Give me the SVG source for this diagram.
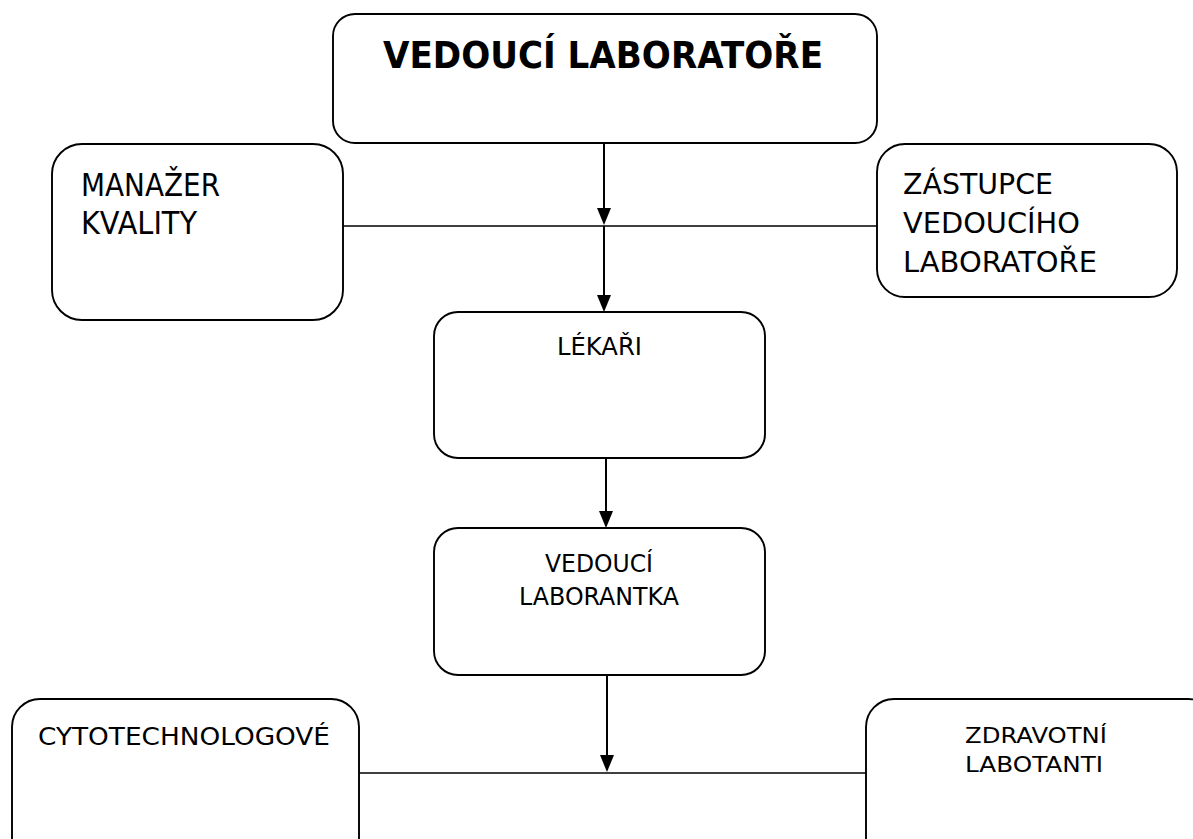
<svg xmlns="http://www.w3.org/2000/svg" width="1193" height="839" viewBox="0 0 1193 839">
<style>
.box{fill:#fff;stroke:#000;stroke-width:1.9}
.t{font-family:"DejaVu Sans","Liberation Sans",sans-serif;fill:#000}
.c{stroke:#000;stroke-width:2;fill:none}
.h{stroke:#000;stroke-width:1.5;fill:none}
.a{fill:#000}
</style>
<rect width="1193" height="839" fill="#fff"/>
<g id="connectors">
<line class="h" x1="343" y1="226" x2="877" y2="226"/>
<line class="h" x1="359" y1="773" x2="866" y2="773"/>
<path class="c" d="M604,143 L604,208"/>
<path class="a" d="M597,208 L611,208 L604,225 Z"/>
<path class="c" d="M604,226 L604,295"/>
<path class="a" d="M597,295 L611,295 L604,312 Z"/>
<path class="c" d="M606,458 L606,511"/>
<path class="a" d="M599,511 L613,511 L606,528 Z"/>
<path class="c" d="M607,675 L607,755"/>
<path class="a" d="M600,755 L614,755 L607,772 Z"/>
</g>
<g id="vedouci-laboratore">
<rect class="box" x="333" y="14" width="544" height="129" rx="22"/>
<text class="t" x="383" y="68" font-size="37" font-weight="bold" textLength="440" lengthAdjust="spacingAndGlyphs">VEDOUCÍ LABORATOŘE</text>
</g>
<g id="manazer-kvality">
<rect class="box" x="52" y="144" width="291" height="176" rx="30"/>
<text class="t" x="81" y="196" font-size="32" textLength="139" lengthAdjust="spacingAndGlyphs">MANAŽER</text>
<text class="t" x="81" y="234" font-size="32" textLength="116" lengthAdjust="spacingAndGlyphs">KVALITY</text>
</g>
<g id="zastupce">
<rect class="box" x="877" y="144" width="300" height="153" rx="28"/>
<text class="t" x="903" y="194" font-size="29" textLength="150" lengthAdjust="spacingAndGlyphs">ZÁSTUPCE</text>
<text class="t" x="903" y="233" font-size="29" textLength="177" lengthAdjust="spacingAndGlyphs">VEDOUCÍHO</text>
<text class="t" x="903" y="272" font-size="29" textLength="194" lengthAdjust="spacingAndGlyphs">LABORATOŘE</text>
</g>
<g id="lekari">
<rect class="box" x="434" y="312" width="331" height="146" rx="24"/>
<text class="t" x="557" y="355" font-size="25" textLength="85" lengthAdjust="spacingAndGlyphs">LÉKAŘI</text>
</g>
<g id="vedouci-laborantka">
<rect class="box" x="434" y="528" width="331" height="147" rx="24"/>
<text class="t" x="545" y="572" font-size="25" textLength="108" lengthAdjust="spacingAndGlyphs">VEDOUCÍ</text>
<text class="t" x="519" y="605" font-size="25" textLength="160" lengthAdjust="spacingAndGlyphs">LABORANTKA</text>
</g>
<g id="cytotechnologove">
<rect class="box" x="12" y="699" width="347" height="170" rx="28"/>
<text class="t" x="38" y="745" font-size="25" textLength="292" lengthAdjust="spacingAndGlyphs">CYTOTECHNOLOGOVÉ</text>
</g>
<g id="zdravotni-labotanti">
<rect class="box" x="866" y="699" width="350" height="170" rx="28"/>
<text class="t" x="965" y="743" font-size="22" textLength="142" lengthAdjust="spacingAndGlyphs">ZDRAVOTNÍ</text>
<text class="t" x="965" y="772" font-size="22" textLength="138" lengthAdjust="spacingAndGlyphs">LABOTANTI</text>
</g>
</svg>
